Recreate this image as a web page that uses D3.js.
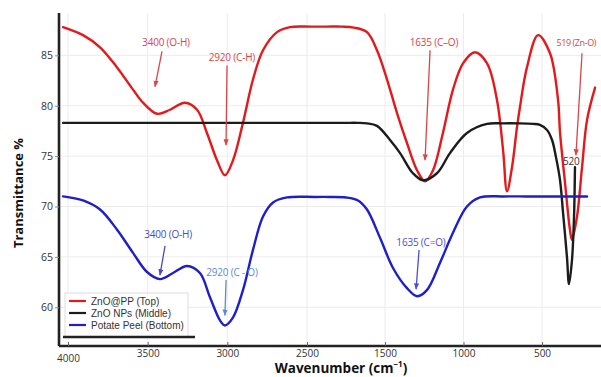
<!DOCTYPE html>
<html>
<head>
<meta charset="utf-8">
<script src="https://cdn.jsdelivr.net/npm/d3@7"></script>
<style>
  html, body { margin: 0; padding: 0; background: #fff; }
  svg { display: block; font-family: "Open Sans", "DejaVu Sans", sans-serif; }
</style>
</head>
<body>
<svg id="chart" width="601" height="377"></svg>
<script>
// FTIR spectra: [wavenumber as read on the axis, transmittance %]
const znoPP = [
  [4031, 87.8], [3906, 87.0], [3799, 85.8], [3692, 83.8], [3592, 81.6], [3529, 80.3],
  [3441, 79.2], [3360, 79.6], [3266, 80.3], [3190, 79.6], [3128, 77.3], [3065, 74.6],
  [3015, 73.1], [2964, 74.6], [2902, 78.3], [2839, 82.6], [2776, 85.5], [2688, 87.3],
  [2607, 87.8], [2450, 87.85], [2250, 87.85], [2050, 87.85], [1900, 87.75], [1731, 87.3],
  [1603, 85.5], [1487, 82.6],
  [1424, 79.3], [1360, 76.3], [1296, 73.6], [1245, 72.5], [1194, 73.6], [1131, 77.3],
  [1067, 81.6], [1003, 84.2], [927, 85.3], [850, 84.2], [787, 80.6], [748, 75.6],
  [723, 71.5], [691, 73.9], [659, 77.9], [640, 79.9], [596, 83.8], [525, 87.0],
  [449, 85.2], [398, 80.6], [385, 77.3], [353, 72.3], [322, 67.7], [309, 66.7],
  [277, 69.0], [245, 73.9], [213, 78.6], [162, 81.8]
];
const znoNPs = [
  [4031, 78.3], [3700, 78.3], [3400, 78.3], [3100, 78.3], [2800, 78.3], [2500, 78.3],
  [2200, 78.3], [2000, 78.3], [1850, 78.3], [1731, 78.25], [1603, 78.0], [1468, 76.6],
  [1404, 75.3], [1322, 73.3], [1258, 72.6],
  [1169, 73.3], [1086, 75.3], [978, 77.3], [850, 78.2], [750, 78.25], [650, 78.25],
  [557, 78.2], [513, 78.1], [468, 77.6], [436, 76.6], [411, 74.9], [385, 72.6],
  [366, 69.4], [341, 65.0], [328, 62.3], [309, 64.7], [296, 69.0], [290, 73.9]
];
const potatoPeel = [
  [4031, 71.0], [3906, 70.6], [3799, 69.7], [3692, 67.7], [3592, 65.4], [3504, 63.5],
  [3423, 62.8], [3341, 63.4], [3253, 64.1], [3172, 63.4], [3109, 61.0], [3046, 58.7],
  [3015, 58.2], [2964, 59.0], [2902, 61.7], [2839, 65.7], [2776, 69.0], [2713, 70.4],
  [2626, 70.9], [2400, 70.95], [2200, 70.95], [2000, 70.9], [1846, 70.6], [1731, 69.7],
  [1564, 66.9], [1449, 63.9], [1360, 61.9],
  [1296, 61.1], [1233, 61.7], [1150, 64.4], [1067, 67.4], [978, 70.0], [895, 70.9],
  [750, 71.0], [600, 71.0], [450, 71.0], [300, 71.0], [213, 71.0]
];

const seriesNames = ["ZnO@PP (Top)", "ZnO NPs (Middle)", "Potate Peel (Bottom)"];
const seriesColors = ["#e3191c", "#1c1c1c", "#1f1fc8"];

const xTicks = [4000, 3500, 3000, 2500, 1500, 1000, 500];
const yTicks = [60, 65, 70, 75, 80, 85];

// Peak labels: text, text position [x, y], arrow tail [x, y], arrow head [x, y]
const peakLabels = [
  { text: "3400 (O-H)",  color: "#d8464a", at: [3385, 86.3], from: [3410, 85.4], to: [3454, 81.9] },
  { text: "2920 (C-H)",  color: "#d8464a", at: [2971, 84.8], from: [3002, 84.0], to: [3008, 76.1] },
  { text: "1635 (C\u2013O)", color: "#d8464a", at: [1188, 86.3], from: [1213, 85.5], to: [1245, 74.6] },
  { text: "519 (Zn-O)",  color: "#d8464a", at: [408, 86.2], from: [245, 85.2], to: [284, 75.1], anchor: "start" },
  { text: "520",         color: "#333333", at: [313, 74.5], from: null, to: null },
  { text: "3400 (O-H)",  color: "#4a4ac4", at: [3372, 67.2], from: [3391, 66.1], to: [3423, 63.2] },
  { text: "2920 (C - O)", color: "#5d8cc8", at: [2971, 63.5], from: [3008, 62.7], to: [3015, 59.2] },
  { text: "1635 (C=O)",  color: "#4e4ed0", at: [1271, 66.4], from: [1283, 65.7], to: [1302, 61.8] }
];

const W = 601, H = 377;
const L = 59, T = 13, B = 346;

const svg = d3.select("#chart");

// The printed axis jumps from 2500 straight to 1500, so the scale is piecewise.
const x = d3.scaleLinear()
  .domain([4000, 2500, 1500, 500])
  .range([L + 9, L + 248, L + 326, L + 483]);
const y = d3.scaleLinear().domain([56.16, 89.2]).range([B, T]);

// grid
const grid = svg.append("g");
grid.selectAll("line.vx").data(xTicks).join("line")
  .attr("x1", d => x(d)).attr("x2", d => x(d))
  .attr("y1", T).attr("y2", B)
  .attr("stroke", "#ececec").attr("stroke-width", 1);
grid.selectAll("line.hy").data(yTicks).join("line")
  .attr("x1", L).attr("x2", W)
  .attr("y1", d => y(d)).attr("y2", d => y(d))
  .attr("stroke", "#ececec").attr("stroke-width", 1);

// curves
const line = d3.line()
  .x(d => x(d[0])).y(d => y(d[1]))
  .curve(d3.curveCatmullRom.alpha(0.5));

[znoPP, znoNPs, potatoPeel].forEach((s, i) => {
  svg.append("path").datum(s)
    .attr("d", line)
    .attr("fill", "none")
    .attr("stroke", seriesColors[i])
    .attr("stroke-width", 2.4)
    .attr("stroke-linejoin", "round")
    .attr("stroke-linecap", "round");
});

// arrow heads
const defs = svg.append("defs");
const colorsUsed = Array.from(new Set(peakLabels.map(p => p.color)));
colorsUsed.forEach((c, i) => {
  defs.append("marker")
    .attr("id", "ah" + i)
    .attr("viewBox", "0 0 10 10")
    .attr("refX", 9).attr("refY", 5)
    .attr("markerWidth", 5).attr("markerHeight", 5)
    .attr("orient", "auto")
    .append("path").attr("d", "M0,1 L10,5 L0,9 Z").attr("fill", c);
});

const ann = svg.append("g");
peakLabels.forEach(p => {
  if (p.from) {
    ann.append("line")
      .attr("x1", x(p.from[0])).attr("y1", y(p.from[1]))
      .attr("x2", x(p.to[0])).attr("y2", y(p.to[1]))
      .attr("stroke", p.color).attr("stroke-width", 1.3)
      .attr("marker-end", "url(#ah" + colorsUsed.indexOf(p.color) + ")");
  }
  ann.append("text")
    .attr("x", x(p.at[0]))
    .attr("y", y(p.at[1]))
    .attr("dy", "0.35em")
    .attr("text-anchor", p.anchor || "middle")
    .attr("font-size", p.anchor ? 9 : 10)
    .attr("letter-spacing", p.anchor ? -0.4 : -0.2)
    .attr("fill", p.color)
    .text(p.text);
});

// axes
const xAxis = svg.append("g")
  .attr("transform", `translate(0,${B})`)
  .call(d3.axisBottom(x).tickValues(xTicks).tickSize(-4).tickPadding(4).tickFormat(d3.format("d")));
xAxis.select(".domain").attr("d", `M${L},0H${W}`).attr("stroke", "#222").attr("stroke-width", 2.6);
xAxis.selectAll(".tick line").attr("stroke", "#666");
xAxis.selectAll(".tick text").attr("font-size", 10).attr("fill", "#333")
  .attr("font-family", "Open Sans")
  .attr("dy", d => d === 4000 ? "1.2em" : "0.71em");

const yAxis = svg.append("g")
  .attr("transform", `translate(${L},0)`)
  .call(d3.axisLeft(y).tickValues(yTicks).tickSize(4).tickPadding(2));
yAxis.select(".domain").attr("d", `M0,${T}V${B}`).attr("stroke", "#222").attr("stroke-width", 2.6);
yAxis.selectAll(".tick line").attr("stroke", "#888");
yAxis.selectAll(".tick text").attr("font-size", 10.5).attr("fill", "#333").attr("font-family", "Open Sans");

// axis titles
svg.append("text")
  .attr("transform", `translate(23,193) rotate(-90)`)
  .attr("text-anchor", "middle")
  .attr("font-size", 13).attr("font-weight", "bold").attr("fill", "#111")
  .text("Transmittance %");

const xt = svg.append("text")
  .attr("x", 341).attr("y", 373)
  .attr("text-anchor", "middle")
  .attr("font-size", 13.5).attr("font-weight", "bold").attr("fill", "#111");
xt.append("tspan").text("Wavenumber (cm");
xt.append("tspan").attr("font-size", 8).attr("dy", -6).text("\u22121");
xt.append("tspan").attr("dy", 6).text(")");

// legend
const lg = svg.append("g").attr("transform", "translate(65,293)");
lg.append("rect").attr("width", 123).attr("height", 44)
  .attr("fill", "#fff").attr("fill-opacity", 0.85)
  .attr("stroke", "#dddddd").attr("stroke-width", 1);
seriesNames.forEach((n, i) => {
  const gy = 8 + i * 12;
  lg.append("line").attr("x1", 4).attr("x2", 21).attr("y1", gy).attr("y2", gy)
    .attr("stroke", seriesColors[i]).attr("stroke-width", 2.2);
  lg.append("text").attr("x", 26).attr("y", gy).attr("dy", "0.35em")
    .attr("font-family", "Liberation Sans, Arial, sans-serif")
    .attr("font-size", 10).attr("fill", "#333").text(n);
});
lg.append("line").attr("x1", -2).attr("x2", 130).attr("y1", 44).attr("y2", 44)
  .attr("stroke", "#222").attr("stroke-width", 2.4);
</script>
</body>
</html>
